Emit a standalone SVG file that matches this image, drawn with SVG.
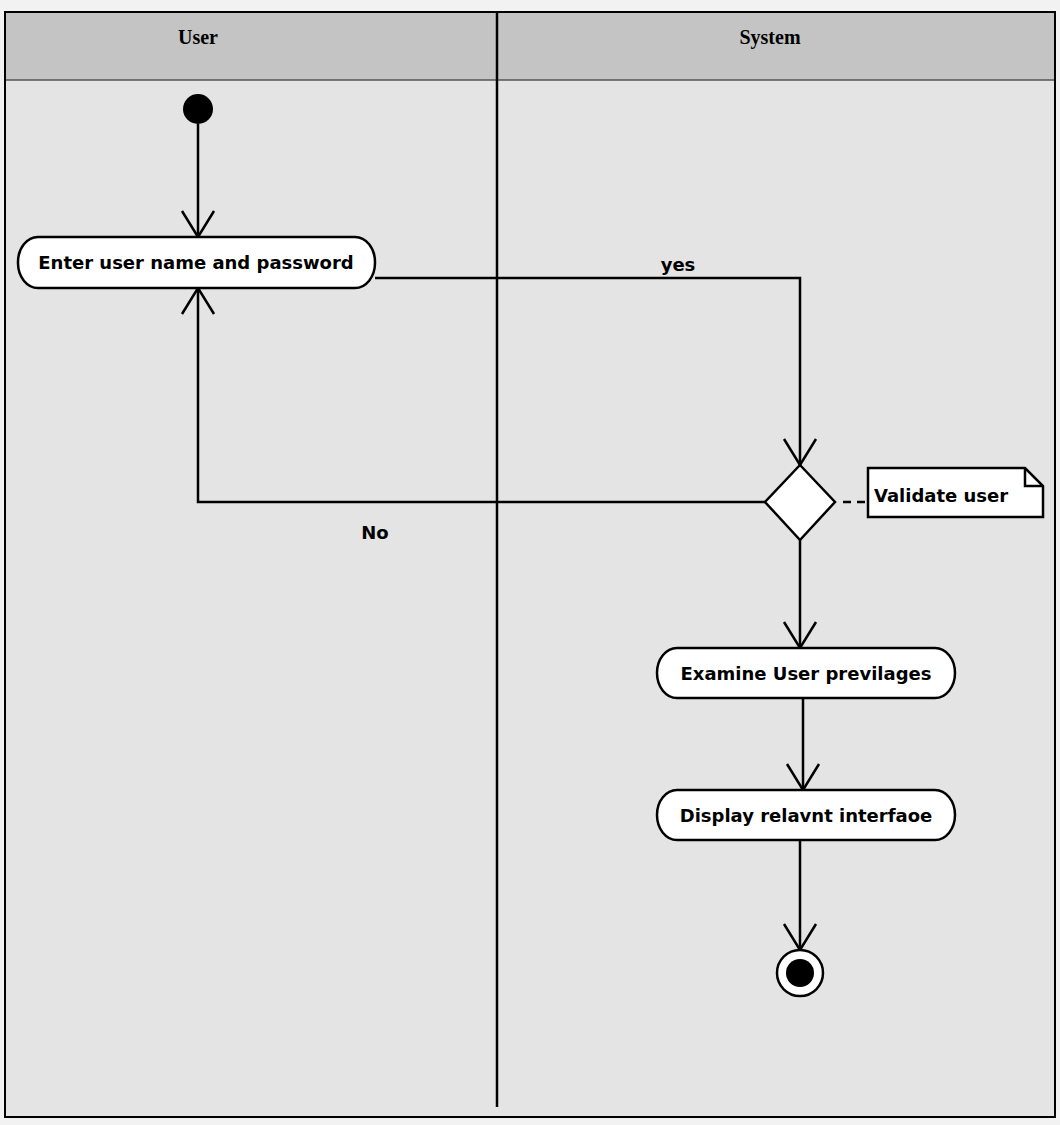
<svg xmlns="http://www.w3.org/2000/svg" width="1060" height="1125" viewBox="0 0 1060 1125">
<defs>
<style>
.ln{fill:none;stroke:#000;stroke-width:2.5}
.nd{fill:#fff;stroke:#000;stroke-width:2.5}
.t{font-family:"DejaVu Sans",Verdana,sans-serif;font-weight:bold;font-size:18px;fill:#000}
.h{font-family:"Liberation Serif","Times New Roman",serif;font-weight:bold;font-size:20px;fill:#000}
</style>
<marker id="arr" viewBox="0 0 30 36" markerWidth="30" markerHeight="36" refX="28" refY="18" orient="auto" markerUnits="userSpaceOnUse">
<path d="M2,2 L28,18 L2,34" fill="none" stroke="#000" stroke-width="2.5"/>
</marker>
</defs>
<rect x="0" y="0" width="1060" height="1125" fill="#f2f2f2"/>
<rect x="5" y="12" width="1050" height="1105" fill="#e4e4e4" stroke="#000" stroke-width="2"/>
<rect x="6" y="13" width="1048" height="67" fill="#c4c4c4"/>
<line x1="6" y1="80" x2="1054" y2="80" stroke="#555" stroke-width="1.5"/>
<line x1="497" y1="12" x2="497" y2="1107" stroke="#000" stroke-width="2.5"/>
<g id="lane-user"><text class="h" x="198" y="44" text-anchor="middle">User</text></g>
<g id="lane-system"><text class="h" x="770" y="44" text-anchor="middle">System</text></g>

<g id="connectors">
<line class="ln" x1="198" y1="124" x2="198" y2="237" marker-end="url(#arr)"/>
<polyline class="ln" points="375,278 800,278 800,465" marker-end="url(#arr)"/>
<polyline class="ln" points="765,502 198,502 198,288" marker-end="url(#arr)"/>
<line x1="843" y1="502" x2="868" y2="502" stroke="#000" stroke-width="2.5" stroke-dasharray="8,6"/>
<line class="ln" x1="800" y1="540" x2="800" y2="648" marker-end="url(#arr)"/>
<line class="ln" x1="803" y1="698" x2="803" y2="790" marker-end="url(#arr)"/>
<line class="ln" x1="800" y1="840" x2="800" y2="950" marker-end="url(#arr)"/>
<text class="t" x="678" y="271" text-anchor="middle">yes</text>
<text class="t" x="375" y="539" text-anchor="middle">No</text>
</g>

<g id="start"><circle cx="198" cy="109" r="15" fill="#000"/></g>
<g id="enter">
<rect class="nd" x="18" y="237" width="357" height="51" rx="20" ry="25"/>
<text class="t" x="196" y="269" text-anchor="middle">Enter user name and password</text>
</g>
<g id="decision"><polygon class="nd" points="800,465 835,502 800,540 765,502"/></g>
<g id="note">
<path class="nd" d="M868,468 L1025,468 L1043,486 L1043,517 L868,517 Z"/>
<path class="ln" d="M1025,468 L1025,486 L1043,486"/>
<text class="t" x="874" y="502">Validate user</text>
</g>
<g id="examine">
<rect class="nd" x="657" y="648" width="298" height="50" rx="20" ry="25"/>
<text class="t" x="806" y="680" text-anchor="middle">Examine User previlages</text>
</g>
<g id="display">
<rect class="nd" x="657" y="790" width="298" height="50" rx="20" ry="25"/>
<text class="t" x="806" y="822" text-anchor="middle">Display relavnt interfaoe</text>
</g>
<g id="end">
<circle cx="800" cy="973" r="23" fill="#fff" stroke="#000" stroke-width="2.5"/>
<circle cx="800" cy="973" r="14" fill="#000"/>
</g>
</svg>
